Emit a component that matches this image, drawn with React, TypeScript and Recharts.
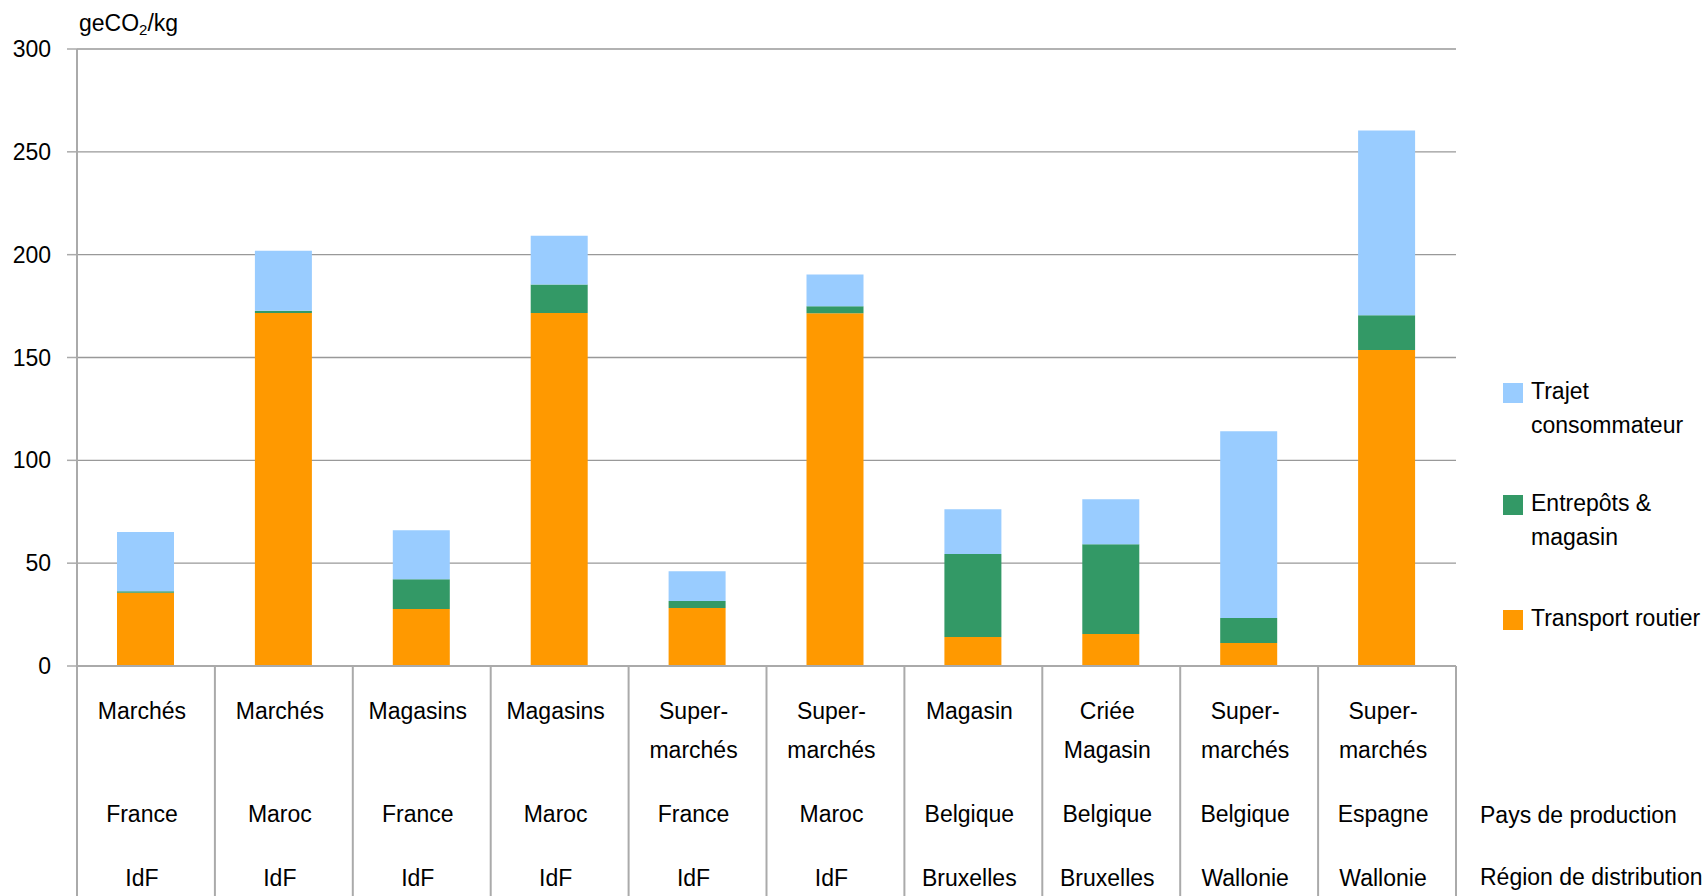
import React from 'react';
import { BarChart, Bar, XAxis, YAxis, CartesianGrid, Legend, Customized } from 'recharts';

const outletLabels = ['Marchés', 'Marchés', 'Magasins', 'Magasins', 'Super-\nmarchés', 'Super-\nmarchés', 'Magasin', 'Criée\nMagasin', 'Super-\nmarchés', 'Super-\nmarchés'];
const productionCountries = ['France', 'Maroc', 'France', 'Maroc', 'France', 'Maroc', 'Belgique', 'Belgique', 'Belgique', 'Espagne'];
const distributionRegions = ['IdF', 'IdF', 'IdF', 'IdF', 'IdF', 'IdF', 'Bruxelles', 'Bruxelles', 'Wallonie', 'Wallonie'];

const transportRoutier = [35.6, 171.6, 27.7, 171.6, 28.2, 171.5, 14.1, 15.5, 11.2, 153.7];
const entrepotsMagasin = [0.8, 1.1, 14.5, 13.9, 3.4, 3.4, 40.3, 43.7, 12.1, 16.9];
const trajetConsommateur = [28.7, 29.2, 23.8, 23.7, 14.5, 15.5, 21.8, 21.9, 90.9, 89.8];

const yTicks = [0, 50, 100, 150, 200, 250, 300];

const seriesDefs = [
  { key: 'transport', name: 'Transport routier', lines: ['Transport routier'], color: '#FF9900' },
  { key: 'entrepots', name: 'Entrepôts & magasin', lines: ['Entrepôts &', 'magasin'], color: '#339966' },
  { key: 'trajet', name: 'Trajet consommateur', lines: ['Trajet', 'consommateur'], color: '#99CCFF' },
];

const rowLabels = ['Pays de production', 'Région de distribution'];

const data = outletLabels.map((o, i) => ({
  id: String(i),
  transport: transportRoutier[i],
  entrepots: entrepotsMagasin[i],
  trajet: trajetConsommateur[i],
}));

const W = 1708;
const H = 896;
const PLOT_LEFT = 77;
const PLOT_RIGHT = 1456;
const PLOT_TOP = 49;
const X_AXIS_H = 230;
const BAND = (PLOT_RIGHT - PLOT_LEFT) / outletLabels.length;
const FONT = 'Liberation Sans, Arial, Helvetica, sans-serif';
const AXIS_COLOR = '#aaaaaa';

const CategoryTick = (props: any) => {
  const { x, y, index } = props;
  const half = BAND / 2;
  const cx = x - 4;
  const typeLines = outletLabels[index].split('\n');
  return (
    <g>
      <line x1={x - half} x2={x - half} y1={y} y2={H} stroke={AXIS_COLOR} strokeWidth={2} />
      {index === outletLabels.length - 1 && (
        <line x1={x + half} x2={x + half} y1={y} y2={H} stroke={AXIS_COLOR} strokeWidth={2} />
      )}
      <text textAnchor="middle" fontSize={23} fill="#000" fontFamily={FONT}>
        {typeLines.map((l, i) => (
          <tspan key={i} x={cx} y={y + 53 + i * 39}>
            {l}
          </tspan>
        ))}
      </text>
      <text x={cx} y={y + 156} textAnchor="middle" fontSize={23} fill="#000" fontFamily={FONT}>
        {productionCountries[index]}
      </text>
      <text x={cx} y={y + 220} textAnchor="middle" fontSize={23} fill="#000" fontFamily={FONT}>
        {distributionRegions[index]}
      </text>
    </g>
  );
};

const Extras = () => (
  <g fontFamily={FONT} fill="#000">
    <text x={79} y={31} fontSize={23}>
      geCO<tspan fontSize={15} dy={4}>2</tspan>
      <tspan dy={-4}>/kg</tspan>
    </text>
    <text x={1480} y={823} fontSize={23}>
      {rowLabels[0]}
    </text>
    <text x={1480} y={885} fontSize={23}>
      {rowLabels[1]}
    </text>
  </g>
);

const legendTops = [0, 112, 227];

const LegendContent = () => {
  const items = [...seriesDefs].reverse();
  return (
    <div style={{ position: 'relative', width: 205, height: 250, fontFamily: FONT }}>
      {items.map((s, i) => (
        <div key={s.key} style={{ position: 'absolute', left: 0, top: legendTops[i] }}>
          <div style={{ position: 'absolute', left: 0, top: 0, width: 20, height: 20, background: s.color }} />
          <div
            style={{
              position: 'absolute',
              left: 28,
              top: -8.6,
              fontSize: 23,
              lineHeight: '34px',
              whiteSpace: 'pre',
              color: '#000',
            }}
          >
            {s.lines.join('\n')}
          </div>
        </div>
      ))}
    </div>
  );
};

export default function App() {
  return (
    <div style={{ position: 'absolute', left: 0, top: 0, width: W, height: H, background: '#fff', fontFamily: FONT }}>
      <BarChart
        width={W}
        height={H}
        data={data}
        margin={{ top: PLOT_TOP, right: W - PLOT_RIGHT, bottom: 0, left: PLOT_LEFT - 60 }}
        barSize={57}
      >
        <CartesianGrid horizontal vertical={false} stroke="#999999" strokeWidth={1.3} />
        <XAxis
          dataKey="id"
          type="category"
          height={X_AXIS_H}
          interval={0}
          tickSize={0}
          tickMargin={0}
          tickLine={false}
          axisLine={{ stroke: AXIS_COLOR, strokeWidth: 2 }}
          tick={(p: any) => <CategoryTick {...p} />}
        />
        <YAxis
          width={60}
          domain={[0, 300]}
          ticks={yTicks}
          interval={0}
          tickSize={10}
          tickMargin={16}
          tickLine={{ stroke: AXIS_COLOR, strokeWidth: 1.5 }}
          axisLine={{ stroke: AXIS_COLOR, strokeWidth: 2 }}
          tick={{ fontSize: 23, fill: '#000', fontFamily: FONT }}
        />
        <Legend
          layout="vertical"
          align="center"
          verticalAlign="middle"
          wrapperStyle={{ left: 1503, top: 383, width: 205 }}
          content={() => <LegendContent />}
        />
        {seriesDefs.map((s) => (
          <Bar key={s.key} dataKey={s.key} name={s.name} stackId="a" fill={s.color} isAnimationActive={false} />
        ))}
        <Customized component={Extras} />
      </BarChart>
    </div>
  );
}
